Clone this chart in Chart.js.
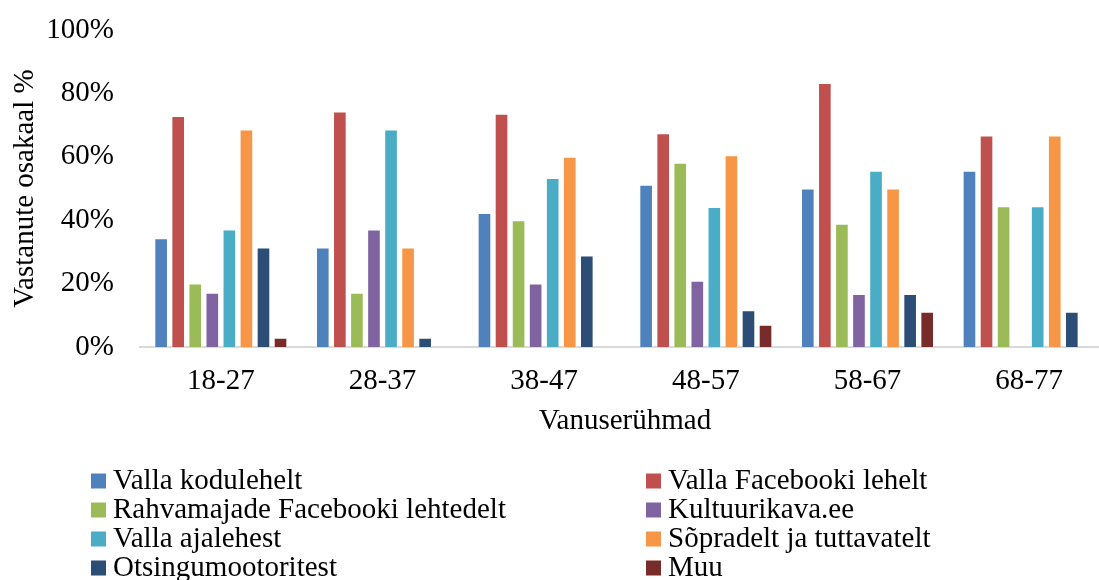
<!DOCTYPE html>
<html>
<head>
<meta charset="utf-8">
<script src="https://cdn.jsdelivr.net/npm/chart.js@4/dist/chart.umd.min.js"></script>
<style>
    html, body { margin: 0; padding: 0; background: #fff; overflow: hidden; }
    .chart-wrapper { width: 1099px; height: 580px; overflow: hidden; }
</style>
</head>
<body>
<div class="chart-wrapper">
    <canvas id="chart" width="1120" height="580"></canvas>
</div>
<script>
// Vanuserühmad
const ageGroups = ['18-27', '28-37', '38-47', '48-57', '58-67', '68-77'];

// Vastanute osakaal (%) iga allika kohta
const vallaKodulehelt   = [34.3, 31.4, 42.3, 51.2, 50.0, 55.6];
const vallaFacebook     = [72.9, 74.3, 73.6, 67.4, 83.3, 66.7];
const rahvamajadeFb     = [20.0, 17.1, 40.0, 58.1, 38.9, 44.4];
const kultuurikava      = [17.1, 37.1, 20.0, 20.9, 16.7, 0];
const vallaAjalehest    = [37.1, 68.6, 53.3, 44.2, 55.6, 44.4];
const sopradelt         = [68.6, 31.4, 60.0, 60.5, 50.0, 66.7];
const otsingumootorid   = [31.4, 2.9, 28.9, 11.6, 16.7, 11.1];
const muu               = [2.9, 0, 0, 7.0, 11.1, 0];

const yTicks = [0, 20, 40, 60, 80, 100];

const FONT = "'Liberation Serif', 'Times New Roman', serif";

const series = [
    { label: 'Valla kodulehelt', data: vallaKodulehelt, color: '#4F81BD' },
    { label: 'Valla Facebooki lehelt', data: vallaFacebook, color: '#C0504D' },
    { label: 'Rahvamajade Facebooki lehtedelt', data: rahvamajadeFb, color: '#9BBB59' },
    { label: 'Kultuurikava.ee', data: kultuurikava, color: '#8064A2' },
    { label: 'Valla ajalehest', data: vallaAjalehest, color: '#4BACC6' },
    { label: 'Sõpradelt ja tuttavatelt', data: sopradelt, color: '#F79646' },
    { label: 'Otsingumootoritest', data: otsingumootorid, color: '#2C4D75' },
    { label: 'Muu', data: muu, color: '#772C2A' }
];

// legend in two columns under the chart (Excel style)
const twoColumnLegend = {
    id: 'twoColumnLegend',
    afterDraw(chart) {
        const ctx = chart.ctx;
        const colX = [91, 646];
        const rowY = 480.5;
        const rowStep = 29;
        ctx.save();
        ctx.font = '29px ' + FONT;
        ctx.textBaseline = 'middle';
        chart.data.datasets.forEach((ds, i) => {
            const x = colX[i % 2];
            const y = rowY + Math.floor(i / 2) * rowStep;
            ctx.fillStyle = ds.backgroundColor;
            ctx.fillRect(x, y - 7, 15, 15);
            ctx.fillStyle = '#000';
            ctx.fillText(ds.label, x + 22, y + 1);
        });
        ctx.restore();
    }
};

const ctx = document.getElementById('chart').getContext('2d');

new Chart(ctx, {
    type: 'bar',
    data: {
        labels: ageGroups,
        datasets: series.map(s => ({
            label: s.label,
            data: s.data,
            backgroundColor: s.color,
            borderColor: 'rgba(255, 255, 255, 0.55)',
            borderWidth: 1,
            barPercentage: 0.8,
            categoryPercentage: 0.844
        }))
    },
    options: {
        responsive: false,
        animation: false,
        layout: {
            padding: { left: 0, top: 30, right: 10, bottom: 141.6 }
        },
        plugins: {
            legend: { display: false },
            tooltip: { enabled: false }
        },
        scales: {
            x: {
                grid: { display: false, drawTicks: false },
                border: { display: true, color: '#D9D9D9', width: 2 },
                ticks: {
                    color: '#000',
                    padding: 17,
                    font: { family: FONT, size: 29 }
                },
                title: {
                    display: true,
                    text: 'Vanuserühmad',
                    color: '#000',
                    padding: 0,
                    font: { family: FONT, size: 29 }
                },
                afterFit: (scale) => { scale.height = 91.4; }
            },
            y: {
                min: 0,
                max: 100,
                grid: { display: false, drawTicks: false },
                border: { display: false },
                afterBuildTicks: (scale) => {
                    scale.ticks = yTicks.map(v => ({ value: v }));
                },
                ticks: {
                    color: '#000',
                    padding: 26,
                    font: { family: FONT, size: 29 },
                    callback: (value) => value + '%'
                },
                title: {
                    display: true,
                    text: 'Vastanute osakaal %',
                    color: '#000',
                    padding: { top: 8, bottom: 0 },
                    font: { family: FONT, size: 29 }
                },
                afterFit: (scale) => {
                    scale.width = 140;
                    scale.paddingTop = 0;
                    scale.paddingBottom = 0;
                }
            }
        }
    },
    plugins: [twoColumnLegend]
});
</script>
</body>
</html>
